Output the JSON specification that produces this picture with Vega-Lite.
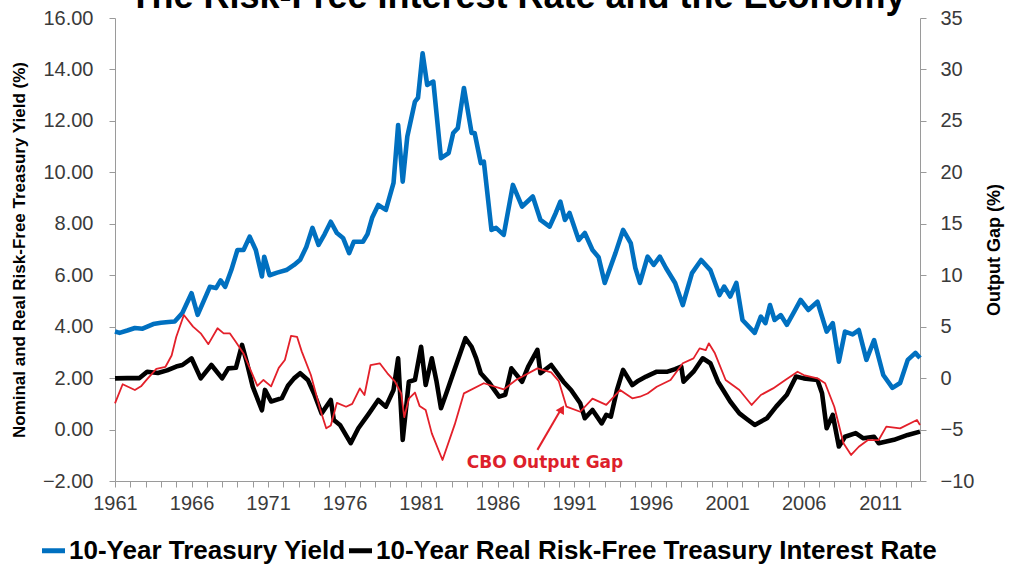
{
  "$schema": "https://vega.github.io/schema/vega-lite/v6.json",
  "autosize": {"type": "none"},
  "padding": {"left": 115, "top": 18, "right": 89, "bottom": 84},
  "width": 805,
  "height": 463,
  "background": "white",
  "title": {"text": "The Risk-Free Interest Rate and the Economy", "fontSize": 36, "font": "Liberation Sans", "fontWeight": "bold", "color": "#000000", "anchor": "middle", "offset": 6, "dy": 14},
  "config": {
    "view": {"stroke": null},
    "axis": {"grid": false, "domainColor": "#9a9a9a", "tickColor": "#9a9a9a", "labelFont": "Liberation Sans", "labelFontSize": 20, "labelColor": "#3a3a3a", "titleFont": "Liberation Sans", "titleColor": "#000000", "titleFontWeight": "bold", "tickSize": 6},
    "axisX": {"labelOverlap": false}
  },
  "datasets": {
    "rates": [
      {"year": 1961.0, "series": "10-Year Treasury Yield", "value": 3.81},
      {"year": 1961.3, "series": "10-Year Treasury Yield", "value": 3.76},
      {"year": 1961.8, "series": "10-Year Treasury Yield", "value": 3.85},
      {"year": 1962.3, "series": "10-Year Treasury Yield", "value": 3.95},
      {"year": 1962.8, "series": "10-Year Treasury Yield", "value": 3.92},
      {"year": 1963.5, "series": "10-Year Treasury Yield", "value": 4.1},
      {"year": 1964.0, "series": "10-Year Treasury Yield", "value": 4.15},
      {"year": 1964.5, "series": "10-Year Treasury Yield", "value": 4.18},
      {"year": 1964.9, "series": "10-Year Treasury Yield", "value": 4.2},
      {"year": 1965.4, "series": "10-Year Treasury Yield", "value": 4.53},
      {"year": 1966.0, "series": "10-Year Treasury Yield", "value": 5.3},
      {"year": 1966.4, "series": "10-Year Treasury Yield", "value": 4.46},
      {"year": 1966.8, "series": "10-Year Treasury Yield", "value": 5.0},
      {"year": 1967.2, "series": "10-Year Treasury Yield", "value": 5.55},
      {"year": 1967.6, "series": "10-Year Treasury Yield", "value": 5.5},
      {"year": 1967.9, "series": "10-Year Treasury Yield", "value": 5.8},
      {"year": 1968.2, "series": "10-Year Treasury Yield", "value": 5.55},
      {"year": 1968.6, "series": "10-Year Treasury Yield", "value": 6.2},
      {"year": 1969.0, "series": "10-Year Treasury Yield", "value": 6.98},
      {"year": 1969.4, "series": "10-Year Treasury Yield", "value": 6.98},
      {"year": 1969.8, "series": "10-Year Treasury Yield", "value": 7.5},
      {"year": 1970.2, "series": "10-Year Treasury Yield", "value": 6.98},
      {"year": 1970.6, "series": "10-Year Treasury Yield", "value": 5.95},
      {"year": 1970.75, "series": "10-Year Treasury Yield", "value": 6.72},
      {"year": 1971.1, "series": "10-Year Treasury Yield", "value": 6.0},
      {"year": 1971.6, "series": "10-Year Treasury Yield", "value": 6.1},
      {"year": 1972.2, "series": "10-Year Treasury Yield", "value": 6.2},
      {"year": 1972.7, "series": "10-Year Treasury Yield", "value": 6.4},
      {"year": 1973.1, "series": "10-Year Treasury Yield", "value": 6.6},
      {"year": 1973.5, "series": "10-Year Treasury Yield", "value": 7.1},
      {"year": 1973.9, "series": "10-Year Treasury Yield", "value": 7.84},
      {"year": 1974.3, "series": "10-Year Treasury Yield", "value": 7.18},
      {"year": 1974.7, "series": "10-Year Treasury Yield", "value": 7.6},
      {"year": 1975.1, "series": "10-Year Treasury Yield", "value": 8.08},
      {"year": 1975.5, "series": "10-Year Treasury Yield", "value": 7.64},
      {"year": 1975.9, "series": "10-Year Treasury Yield", "value": 7.45},
      {"year": 1976.3, "series": "10-Year Treasury Yield", "value": 6.86},
      {"year": 1976.6, "series": "10-Year Treasury Yield", "value": 7.3},
      {"year": 1977.2, "series": "10-Year Treasury Yield", "value": 7.3},
      {"year": 1977.5, "series": "10-Year Treasury Yield", "value": 7.6},
      {"year": 1977.8, "series": "10-Year Treasury Yield", "value": 8.23},
      {"year": 1978.2, "series": "10-Year Treasury Yield", "value": 8.73},
      {"year": 1978.7, "series": "10-Year Treasury Yield", "value": 8.54},
      {"year": 1979.2, "series": "10-Year Treasury Yield", "value": 9.59},
      {"year": 1979.5, "series": "10-Year Treasury Yield", "value": 11.84},
      {"year": 1979.8, "series": "10-Year Treasury Yield", "value": 9.64},
      {"year": 1980.1, "series": "10-Year Treasury Yield", "value": 11.39},
      {"year": 1980.6, "series": "10-Year Treasury Yield", "value": 12.75},
      {"year": 1980.8, "series": "10-Year Treasury Yield", "value": 12.9},
      {"year": 1981.1, "series": "10-Year Treasury Yield", "value": 14.63},
      {"year": 1981.4, "series": "10-Year Treasury Yield", "value": 13.4},
      {"year": 1981.8, "series": "10-Year Treasury Yield", "value": 13.53},
      {"year": 1982.3, "series": "10-Year Treasury Yield", "value": 10.55},
      {"year": 1982.8, "series": "10-Year Treasury Yield", "value": 10.75},
      {"year": 1983.1, "series": "10-Year Treasury Yield", "value": 11.53},
      {"year": 1983.4, "series": "10-Year Treasury Yield", "value": 11.72},
      {"year": 1983.8, "series": "10-Year Treasury Yield", "value": 13.28},
      {"year": 1984.3, "series": "10-Year Treasury Yield", "value": 11.53},
      {"year": 1984.5, "series": "10-Year Treasury Yield", "value": 11.53},
      {"year": 1984.9, "series": "10-Year Treasury Yield", "value": 10.36},
      {"year": 1985.1, "series": "10-Year Treasury Yield", "value": 10.42},
      {"year": 1985.6, "series": "10-Year Treasury Yield", "value": 7.76},
      {"year": 1985.9, "series": "10-Year Treasury Yield", "value": 7.84},
      {"year": 1986.4, "series": "10-Year Treasury Yield", "value": 7.57},
      {"year": 1987.0, "series": "10-Year Treasury Yield", "value": 9.51},
      {"year": 1987.6, "series": "10-Year Treasury Yield", "value": 8.67},
      {"year": 1988.3, "series": "10-Year Treasury Yield", "value": 9.06},
      {"year": 1988.8, "series": "10-Year Treasury Yield", "value": 8.15},
      {"year": 1989.4, "series": "10-Year Treasury Yield", "value": 7.89},
      {"year": 1989.8, "series": "10-Year Treasury Yield", "value": 8.42},
      {"year": 1990.1, "series": "10-Year Treasury Yield", "value": 8.86},
      {"year": 1990.4, "series": "10-Year Treasury Yield", "value": 8.15},
      {"year": 1990.7, "series": "10-Year Treasury Yield", "value": 8.42},
      {"year": 1991.3, "series": "10-Year Treasury Yield", "value": 7.37},
      {"year": 1991.7, "series": "10-Year Treasury Yield", "value": 7.64},
      {"year": 1992.2, "series": "10-Year Treasury Yield", "value": 6.98},
      {"year": 1992.6, "series": "10-Year Treasury Yield", "value": 6.7},
      {"year": 1993.0, "series": "10-Year Treasury Yield", "value": 5.7},
      {"year": 1993.7, "series": "10-Year Treasury Yield", "value": 6.86},
      {"year": 1994.2, "series": "10-Year Treasury Yield", "value": 7.76},
      {"year": 1994.7, "series": "10-Year Treasury Yield", "value": 7.25},
      {"year": 1995.0, "series": "10-Year Treasury Yield", "value": 6.28},
      {"year": 1995.3, "series": "10-Year Treasury Yield", "value": 5.7},
      {"year": 1995.8, "series": "10-Year Treasury Yield", "value": 6.72},
      {"year": 1996.2, "series": "10-Year Treasury Yield", "value": 6.4},
      {"year": 1996.6, "series": "10-Year Treasury Yield", "value": 6.72},
      {"year": 1997.0, "series": "10-Year Treasury Yield", "value": 6.28},
      {"year": 1997.6, "series": "10-Year Treasury Yield", "value": 5.7},
      {"year": 1998.1, "series": "10-Year Treasury Yield", "value": 4.84},
      {"year": 1998.7, "series": "10-Year Treasury Yield", "value": 6.08},
      {"year": 1999.3, "series": "10-Year Treasury Yield", "value": 6.59},
      {"year": 1999.9, "series": "10-Year Treasury Yield", "value": 6.2},
      {"year": 2000.5, "series": "10-Year Treasury Yield", "value": 5.23},
      {"year": 2000.8, "series": "10-Year Treasury Yield", "value": 5.56},
      {"year": 2001.2, "series": "10-Year Treasury Yield", "value": 5.17},
      {"year": 2001.6, "series": "10-Year Treasury Yield", "value": 5.7},
      {"year": 2002.0, "series": "10-Year Treasury Yield", "value": 4.26},
      {"year": 2002.8, "series": "10-Year Treasury Yield", "value": 3.76},
      {"year": 2003.2, "series": "10-Year Treasury Yield", "value": 4.39},
      {"year": 2003.5, "series": "10-Year Treasury Yield", "value": 4.14},
      {"year": 2003.8, "series": "10-Year Treasury Yield", "value": 4.84},
      {"year": 2004.1, "series": "10-Year Treasury Yield", "value": 4.26},
      {"year": 2004.5, "series": "10-Year Treasury Yield", "value": 4.45},
      {"year": 2004.9, "series": "10-Year Treasury Yield", "value": 4.07},
      {"year": 2005.4, "series": "10-Year Treasury Yield", "value": 4.6},
      {"year": 2005.8, "series": "10-Year Treasury Yield", "value": 5.04},
      {"year": 2006.3, "series": "10-Year Treasury Yield", "value": 4.65},
      {"year": 2006.9, "series": "10-Year Treasury Yield", "value": 4.97},
      {"year": 2007.5, "series": "10-Year Treasury Yield", "value": 3.81},
      {"year": 2007.9, "series": "10-Year Treasury Yield", "value": 4.14},
      {"year": 2008.3, "series": "10-Year Treasury Yield", "value": 2.64},
      {"year": 2008.7, "series": "10-Year Treasury Yield", "value": 3.81},
      {"year": 2009.2, "series": "10-Year Treasury Yield", "value": 3.7},
      {"year": 2009.6, "series": "10-Year Treasury Yield", "value": 3.87},
      {"year": 2010.1, "series": "10-Year Treasury Yield", "value": 2.71},
      {"year": 2010.6, "series": "10-Year Treasury Yield", "value": 3.48},
      {"year": 2011.2, "series": "10-Year Treasury Yield", "value": 2.12},
      {"year": 2011.8, "series": "10-Year Treasury Yield", "value": 1.62},
      {"year": 2012.3, "series": "10-Year Treasury Yield", "value": 1.81},
      {"year": 2012.8, "series": "10-Year Treasury Yield", "value": 2.71},
      {"year": 2013.3, "series": "10-Year Treasury Yield", "value": 2.98},
      {"year": 2013.6, "series": "10-Year Treasury Yield", "value": 2.78},
      {"year": 1961.0, "series": "10-Year Real Risk-Free Treasury Interest Rate", "value": 1.99},
      {"year": 1961.8, "series": "10-Year Real Risk-Free Treasury Interest Rate", "value": 2.0},
      {"year": 1962.6, "series": "10-Year Real Risk-Free Treasury Interest Rate", "value": 2.0},
      {"year": 1963.1, "series": "10-Year Real Risk-Free Treasury Interest Rate", "value": 2.25},
      {"year": 1963.8, "series": "10-Year Real Risk-Free Treasury Interest Rate", "value": 2.2},
      {"year": 1964.4, "series": "10-Year Real Risk-Free Treasury Interest Rate", "value": 2.3},
      {"year": 1965.0, "series": "10-Year Real Risk-Free Treasury Interest Rate", "value": 2.45},
      {"year": 1965.4, "series": "10-Year Real Risk-Free Treasury Interest Rate", "value": 2.51},
      {"year": 1966.0, "series": "10-Year Real Risk-Free Treasury Interest Rate", "value": 2.77},
      {"year": 1966.6, "series": "10-Year Real Risk-Free Treasury Interest Rate", "value": 1.99},
      {"year": 1967.3, "series": "10-Year Real Risk-Free Treasury Interest Rate", "value": 2.51},
      {"year": 1968.0, "series": "10-Year Real Risk-Free Treasury Interest Rate", "value": 1.99},
      {"year": 1968.4, "series": "10-Year Real Risk-Free Treasury Interest Rate", "value": 2.38},
      {"year": 1968.9, "series": "10-Year Real Risk-Free Treasury Interest Rate", "value": 2.4},
      {"year": 1969.3, "series": "10-Year Real Risk-Free Treasury Interest Rate", "value": 3.29},
      {"year": 1969.6, "series": "10-Year Real Risk-Free Treasury Interest Rate", "value": 2.64},
      {"year": 1970.0, "series": "10-Year Real Risk-Free Treasury Interest Rate", "value": 1.67},
      {"year": 1970.6, "series": "10-Year Real Risk-Free Treasury Interest Rate", "value": 0.75},
      {"year": 1970.8, "series": "10-Year Real Risk-Free Treasury Interest Rate", "value": 1.54},
      {"year": 1971.2, "series": "10-Year Real Risk-Free Treasury Interest Rate", "value": 1.09},
      {"year": 1971.9, "series": "10-Year Real Risk-Free Treasury Interest Rate", "value": 1.22},
      {"year": 1972.3, "series": "10-Year Real Risk-Free Treasury Interest Rate", "value": 1.7},
      {"year": 1972.7, "series": "10-Year Real Risk-Free Treasury Interest Rate", "value": 1.99},
      {"year": 1973.1, "series": "10-Year Real Risk-Free Treasury Interest Rate", "value": 2.19},
      {"year": 1973.6, "series": "10-Year Real Risk-Free Treasury Interest Rate", "value": 1.93},
      {"year": 1974.0, "series": "10-Year Real Risk-Free Treasury Interest Rate", "value": 1.41},
      {"year": 1974.5, "series": "10-Year Real Risk-Free Treasury Interest Rate", "value": 0.63},
      {"year": 1975.1, "series": "10-Year Real Risk-Free Treasury Interest Rate", "value": 1.15},
      {"year": 1975.3, "series": "10-Year Real Risk-Free Treasury Interest Rate", "value": 0.37},
      {"year": 1975.7, "series": "10-Year Real Risk-Free Treasury Interest Rate", "value": 0.18},
      {"year": 1976.4, "series": "10-Year Real Risk-Free Treasury Interest Rate", "value": -0.53},
      {"year": 1976.9, "series": "10-Year Real Risk-Free Treasury Interest Rate", "value": 0.05},
      {"year": 1977.6, "series": "10-Year Real Risk-Free Treasury Interest Rate", "value": 0.63},
      {"year": 1978.2, "series": "10-Year Real Risk-Free Treasury Interest Rate", "value": 1.15},
      {"year": 1978.7, "series": "10-Year Real Risk-Free Treasury Interest Rate", "value": 0.89},
      {"year": 1979.2, "series": "10-Year Real Risk-Free Treasury Interest Rate", "value": 1.54},
      {"year": 1979.5, "series": "10-Year Real Risk-Free Treasury Interest Rate", "value": 2.77},
      {"year": 1979.8, "series": "10-Year Real Risk-Free Treasury Interest Rate", "value": -0.4},
      {"year": 1980.2, "series": "10-Year Real Risk-Free Treasury Interest Rate", "value": 1.86},
      {"year": 1980.6, "series": "10-Year Real Risk-Free Treasury Interest Rate", "value": 1.93},
      {"year": 1981.0, "series": "10-Year Real Risk-Free Treasury Interest Rate", "value": 3.22},
      {"year": 1981.3, "series": "10-Year Real Risk-Free Treasury Interest Rate", "value": 1.73},
      {"year": 1981.7, "series": "10-Year Real Risk-Free Treasury Interest Rate", "value": 2.77},
      {"year": 1982.0, "series": "10-Year Real Risk-Free Treasury Interest Rate", "value": 1.9},
      {"year": 1982.3, "series": "10-Year Real Risk-Free Treasury Interest Rate", "value": 0.83},
      {"year": 1982.7, "series": "10-Year Real Risk-Free Treasury Interest Rate", "value": 1.5},
      {"year": 1983.1, "series": "10-Year Real Risk-Free Treasury Interest Rate", "value": 2.19},
      {"year": 1983.9, "series": "10-Year Real Risk-Free Treasury Interest Rate", "value": 3.55},
      {"year": 1984.3, "series": "10-Year Real Risk-Free Treasury Interest Rate", "value": 3.22},
      {"year": 1984.6, "series": "10-Year Real Risk-Free Treasury Interest Rate", "value": 2.77},
      {"year": 1984.9, "series": "10-Year Real Risk-Free Treasury Interest Rate", "value": 2.19},
      {"year": 1985.4, "series": "10-Year Real Risk-Free Treasury Interest Rate", "value": 1.86},
      {"year": 1986.1, "series": "10-Year Real Risk-Free Treasury Interest Rate", "value": 1.28},
      {"year": 1986.5, "series": "10-Year Real Risk-Free Treasury Interest Rate", "value": 1.35},
      {"year": 1986.9, "series": "10-Year Real Risk-Free Treasury Interest Rate", "value": 2.38},
      {"year": 1987.6, "series": "10-Year Real Risk-Free Treasury Interest Rate", "value": 1.86},
      {"year": 1988.0, "series": "10-Year Real Risk-Free Treasury Interest Rate", "value": 2.45},
      {"year": 1988.6, "series": "10-Year Real Risk-Free Treasury Interest Rate", "value": 3.1},
      {"year": 1988.8, "series": "10-Year Real Risk-Free Treasury Interest Rate", "value": 2.19},
      {"year": 1989.5, "series": "10-Year Real Risk-Free Treasury Interest Rate", "value": 2.51},
      {"year": 1990.3, "series": "10-Year Real Risk-Free Treasury Interest Rate", "value": 1.86},
      {"year": 1990.8, "series": "10-Year Real Risk-Free Treasury Interest Rate", "value": 1.54},
      {"year": 1991.4, "series": "10-Year Real Risk-Free Treasury Interest Rate", "value": 1.02},
      {"year": 1991.7, "series": "10-Year Real Risk-Free Treasury Interest Rate", "value": 0.44},
      {"year": 1992.2, "series": "10-Year Real Risk-Free Treasury Interest Rate", "value": 0.76},
      {"year": 1992.8, "series": "10-Year Real Risk-Free Treasury Interest Rate", "value": 0.24},
      {"year": 1993.1, "series": "10-Year Real Risk-Free Treasury Interest Rate", "value": 0.57},
      {"year": 1993.4, "series": "10-Year Real Risk-Free Treasury Interest Rate", "value": 0.5},
      {"year": 1993.8, "series": "10-Year Real Risk-Free Treasury Interest Rate", "value": 1.54},
      {"year": 1994.2, "series": "10-Year Real Risk-Free Treasury Interest Rate", "value": 2.32},
      {"year": 1994.8, "series": "10-Year Real Risk-Free Treasury Interest Rate", "value": 1.73},
      {"year": 1995.2, "series": "10-Year Real Risk-Free Treasury Interest Rate", "value": 1.9},
      {"year": 1995.7, "series": "10-Year Real Risk-Free Treasury Interest Rate", "value": 2.06},
      {"year": 1996.4, "series": "10-Year Real Risk-Free Treasury Interest Rate", "value": 2.25},
      {"year": 1997.1, "series": "10-Year Real Risk-Free Treasury Interest Rate", "value": 2.25},
      {"year": 1997.6, "series": "10-Year Real Risk-Free Treasury Interest Rate", "value": 2.35},
      {"year": 1998.0, "series": "10-Year Real Risk-Free Treasury Interest Rate", "value": 2.45},
      {"year": 1998.15, "series": "10-Year Real Risk-Free Treasury Interest Rate", "value": 1.86},
      {"year": 1998.8, "series": "10-Year Real Risk-Free Treasury Interest Rate", "value": 2.25},
      {"year": 1999.4, "series": "10-Year Real Risk-Free Treasury Interest Rate", "value": 2.77},
      {"year": 1999.9, "series": "10-Year Real Risk-Free Treasury Interest Rate", "value": 2.58},
      {"year": 2000.4, "series": "10-Year Real Risk-Free Treasury Interest Rate", "value": 1.86},
      {"year": 2001.2, "series": "10-Year Real Risk-Free Treasury Interest Rate", "value": 1.09},
      {"year": 2001.8, "series": "10-Year Real Risk-Free Treasury Interest Rate", "value": 0.63},
      {"year": 2002.3, "series": "10-Year Real Risk-Free Treasury Interest Rate", "value": 0.4},
      {"year": 2002.8, "series": "10-Year Real Risk-Free Treasury Interest Rate", "value": 0.18},
      {"year": 2003.6, "series": "10-Year Real Risk-Free Treasury Interest Rate", "value": 0.44},
      {"year": 2004.2, "series": "10-Year Real Risk-Free Treasury Interest Rate", "value": 0.89},
      {"year": 2004.9, "series": "10-Year Real Risk-Free Treasury Interest Rate", "value": 1.35},
      {"year": 2005.5, "series": "10-Year Real Risk-Free Treasury Interest Rate", "value": 2.06},
      {"year": 2006.0, "series": "10-Year Real Risk-Free Treasury Interest Rate", "value": 1.99},
      {"year": 2006.9, "series": "10-Year Real Risk-Free Treasury Interest Rate", "value": 1.93},
      {"year": 2007.2, "series": "10-Year Real Risk-Free Treasury Interest Rate", "value": 1.41},
      {"year": 2007.5, "series": "10-Year Real Risk-Free Treasury Interest Rate", "value": 0.05},
      {"year": 2007.9, "series": "10-Year Real Risk-Free Treasury Interest Rate", "value": 0.57},
      {"year": 2008.3, "series": "10-Year Real Risk-Free Treasury Interest Rate", "value": -0.66},
      {"year": 2008.7, "series": "10-Year Real Risk-Free Treasury Interest Rate", "value": -0.28},
      {"year": 2009.4, "series": "10-Year Real Risk-Free Treasury Interest Rate", "value": -0.14},
      {"year": 2009.9, "series": "10-Year Real Risk-Free Treasury Interest Rate", "value": -0.34},
      {"year": 2010.6, "series": "10-Year Real Risk-Free Treasury Interest Rate", "value": -0.28},
      {"year": 2010.9, "series": "10-Year Real Risk-Free Treasury Interest Rate", "value": -0.53},
      {"year": 2011.9, "series": "10-Year Real Risk-Free Treasury Interest Rate", "value": -0.4},
      {"year": 2012.8, "series": "10-Year Real Risk-Free Treasury Interest Rate", "value": -0.21},
      {"year": 2013.6, "series": "10-Year Real Risk-Free Treasury Interest Rate", "value": -0.08}
    ],
    "gap": [
      {"year": 1961.0, "gap": -2.45},
      {"year": 1961.5, "gap": -0.6},
      {"year": 1962.3, "gap": -1.16},
      {"year": 1962.7, "gap": -0.8},
      {"year": 1963.1, "gap": -0.1},
      {"year": 1963.7, "gap": 0.9},
      {"year": 1964.3, "gap": 1.1},
      {"year": 1964.7, "gap": 2.2},
      {"year": 1965.0, "gap": 4.0},
      {"year": 1965.5, "gap": 6.13},
      {"year": 1966.1, "gap": 5.0},
      {"year": 1966.6, "gap": 4.35},
      {"year": 1967.1, "gap": 3.3},
      {"year": 1967.7, "gap": 4.84},
      {"year": 1968.1, "gap": 4.35},
      {"year": 1968.5, "gap": 4.35},
      {"year": 1968.9, "gap": 3.5},
      {"year": 1969.4, "gap": 2.4},
      {"year": 1969.8, "gap": 1.0},
      {"year": 1970.3, "gap": -0.75},
      {"year": 1970.7, "gap": -0.18},
      {"year": 1971.2, "gap": -0.8},
      {"year": 1971.7, "gap": 1.0},
      {"year": 1972.1, "gap": 1.76},
      {"year": 1972.5, "gap": 4.1},
      {"year": 1972.9, "gap": 4.0},
      {"year": 1973.2, "gap": 2.6},
      {"year": 1973.8, "gap": 0.3},
      {"year": 1974.4, "gap": -3.0},
      {"year": 1974.8, "gap": -4.88},
      {"year": 1975.1, "gap": -4.6},
      {"year": 1975.5, "gap": -2.4},
      {"year": 1976.1, "gap": -2.78},
      {"year": 1976.5, "gap": -2.5},
      {"year": 1977.0, "gap": -1.0},
      {"year": 1977.3, "gap": -1.64},
      {"year": 1977.7, "gap": 1.27},
      {"year": 1978.3, "gap": 1.44},
      {"year": 1978.8, "gap": 0.47},
      {"year": 1979.3, "gap": -0.35},
      {"year": 1979.7, "gap": -1.48},
      {"year": 1979.9, "gap": -3.8},
      {"year": 1980.2, "gap": -2.0},
      {"year": 1980.6, "gap": -1.4},
      {"year": 1980.9, "gap": -2.7},
      {"year": 1981.3, "gap": -3.1},
      {"year": 1981.7, "gap": -5.37},
      {"year": 1982.4, "gap": -7.96},
      {"year": 1983.2, "gap": -4.5},
      {"year": 1983.8, "gap": -1.48},
      {"year": 1985.1, "gap": -0.5},
      {"year": 1986.4, "gap": -1.1},
      {"year": 1987.2, "gap": -0.18},
      {"year": 1988.6, "gap": 0.95},
      {"year": 1989.5, "gap": 0.55},
      {"year": 1990.0, "gap": -0.3},
      {"year": 1990.5, "gap": -2.78},
      {"year": 1991.4, "gap": -3.27},
      {"year": 1992.2, "gap": -2.0},
      {"year": 1993.1, "gap": -2.6},
      {"year": 1994.0, "gap": -1.16},
      {"year": 1994.8, "gap": -1.96},
      {"year": 1995.3, "gap": -1.81},
      {"year": 1995.8, "gap": -1.5},
      {"year": 1996.4, "gap": -0.84},
      {"year": 1997.3, "gap": -0.18},
      {"year": 1998.1, "gap": 1.44},
      {"year": 1998.8, "gap": 1.92},
      {"year": 1999.2, "gap": 2.89},
      {"year": 1999.6, "gap": 2.73},
      {"year": 1999.8, "gap": 3.38},
      {"year": 2000.2, "gap": 2.41},
      {"year": 2000.9, "gap": -0.18},
      {"year": 2001.8, "gap": -1.16},
      {"year": 2002.6, "gap": -2.61},
      {"year": 2003.2, "gap": -1.64},
      {"year": 2004.0, "gap": -1.0},
      {"year": 2004.8, "gap": -0.18},
      {"year": 2005.6, "gap": 0.62},
      {"year": 2006.0, "gap": 0.3},
      {"year": 2006.9, "gap": -0.02},
      {"year": 2007.4, "gap": -0.5},
      {"year": 2008.0, "gap": -2.78},
      {"year": 2008.6, "gap": -6.34},
      {"year": 2009.1, "gap": -7.47},
      {"year": 2009.6, "gap": -6.67},
      {"year": 2010.2, "gap": -6.02},
      {"year": 2010.9, "gap": -6.02},
      {"year": 2011.4, "gap": -4.72},
      {"year": 2012.3, "gap": -4.88},
      {"year": 2013.4, "gap": -4.07},
      {"year": 2013.6, "gap": -4.56}
    ],
    "note": [{"year": 1989.1, "value": -1.3, "label": "CBO Output Gap"}],
    "arrow": [{"year": 1988.6, "value": -0.79}, {"year": 1990.2, "value": 0.85}],
    "head": [{"year": 1990.2, "value": 0.8}]
  },
  "encoding": {
    "x": {"field": "year", "type": "quantitative", "scale": {"domain": [1961, 2013.6], "nice": false, "zero": false},
      "axis": {"title": null, "values": [1961,1962,1963,1964,1965,1966,1967,1968,1969,1970,1971,1972,1973,1974,1975,1976,1977,1978,1979,1980,1981,1982,1983,1984,1985,1986,1987,1988,1989,1990,1991,1992,1993,1994,1995,1996,1997,1998,1999,2000,2001,2002,2003,2004,2005,2006,2007,2008,2009,2010,2011,2012,2013],
        "labelExpr": "(datum.value - 1961) % 5 == 0 ? format(datum.value, 'd') : ''", "labelOverlap": false, "labelFlush": false, "labelPadding": 6}}
  },
  "layer": [
    {
      "data": {"name": "rates"},
      "mark": {"type": "line", "strokeWidth": 4.6, "strokeJoin": "round"},
      "encoding": {
        "y": {"field": "value", "type": "quantitative", "scale": {"domain": [-2, 16], "nice": false, "zero": false},
          "axis": {"title": "Nominal and Real Risk-Free Treasury Yield (%)", "titleFontSize": 17, "titlePadding": 14, "values": [-2,0,2,4,6,8,10,12,14,16], "format": ".2f", "labelPadding": 16}},
        "color": {"field": "series", "type": "nominal", "sort": ["10-Year Treasury Yield", "10-Year Real Risk-Free Treasury Interest Rate"],
          "scale": {"domain": ["10-Year Treasury Yield", "10-Year Real Risk-Free Treasury Interest Rate"], "range": ["#0070C0", "#000000"]},
          "legend": {"orient": "none", "legendX": -76, "legendY": 518, "direction": "horizontal", "title": null, "symbolType": "stroke", "symbolStrokeWidth": 5, "symbolSize": 530, "labelFontSize": 26, "labelFont": "Liberation Sans", "labelFontWeight": "bold", "labelColor": "#000000", "columnPadding": -10, "labelOffset": 1, "labelLimit": 1000}}
      }
    },
    {
      "data": {"name": "gap"},
      "mark": {"type": "line", "color": "#E3202A", "strokeWidth": 1.8, "strokeJoin": "round"},
      "encoding": {
        "y": {"field": "gap", "type": "quantitative", "scale": {"domain": [-10, 35], "nice": false, "zero": false},
          "axis": {"orient": "right", "title": "Output Gap (%)", "titleFontSize": 18, "titleAngle": 270, "titlePadding": 30, "values": [-10,-5,0,5,10,15,20,25,30,35], "labelPadding": 14}}
      }
    },
    {
      "data": {"name": "arrow"},
      "mark": {"type": "line", "color": "#E3202A", "strokeWidth": 2},
      "encoding": {
        "y": {"field": "value", "type": "quantitative", "scale": {"domain": [-2, 16], "nice": false, "zero": false}, "axis": null}
      }
    },
    {
      "data": {"name": "head"},
      "mark": {"type": "point", "shape": "triangle-up", "filled": true, "color": "#E3202A", "size": 90, "angle": 30, "opacity": 1},
      "encoding": {
        "y": {"field": "value", "type": "quantitative", "scale": {"domain": [-2, 16], "nice": false, "zero": false}, "axis": null}
      }
    },
    {
      "data": {"name": "note"},
      "mark": {"type": "text", "color": "#DD1F2B", "font": "DejaVu Sans", "fontWeight": "bold", "fontSize": 17, "align": "center", "baseline": "middle"},
      "encoding": {
        "y": {"field": "value", "type": "quantitative", "scale": {"domain": [-2, 16], "nice": false, "zero": false}, "axis": null},
        "text": {"field": "label"}
      }
    }
  ],
  "resolve": {"scale": {"y": "independent"}}
}
